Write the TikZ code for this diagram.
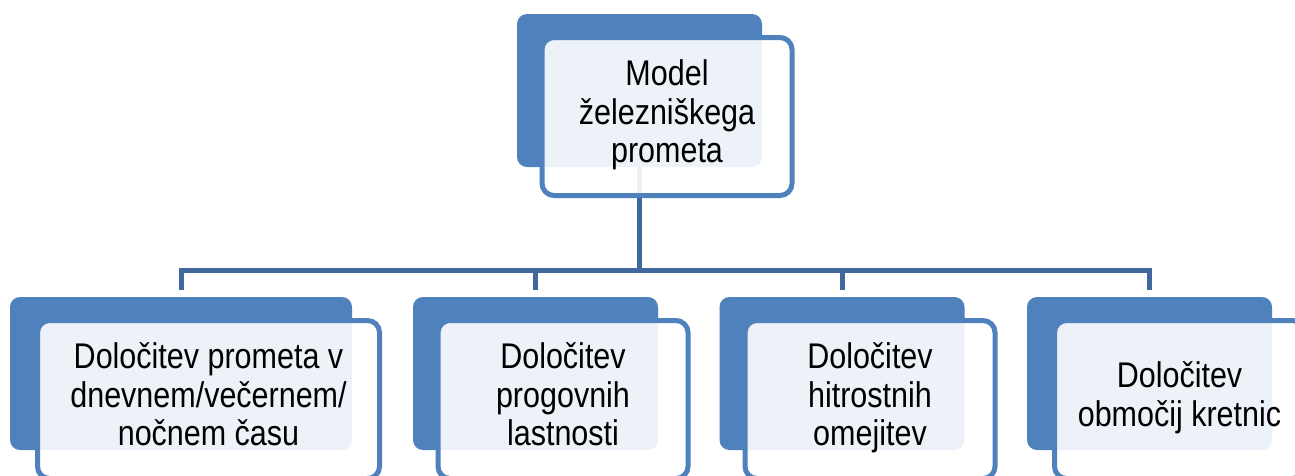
\documentclass[tikz,border=0pt]{standalone}
\usepackage{fontspec}
\setmainfont{Liberation Sans}
\usepackage{graphicx}
\definecolor{accblue}{RGB}{79,129,189}
\definecolor{connblue}{RGB}{64,104,156}
\newcommand{\mytxt}[1]{\scalebox{1}[1.17]{\begin{tabular}{@{}c@{}}#1\end{tabular}}}
\tikzset{
  darkbox/.style={rectangle, rounded corners=10pt, fill=accblue, draw=none, inner sep=0pt, outer sep=0pt, minimum width=245pt, minimum height=153pt},
  lightbox/.style={rectangle, rounded corners=12pt, fill=white, fill opacity=0.9, draw=accblue, draw opacity=1, line width=5pt, inner sep=0pt, outer sep=0pt, minimum width=250pt, minimum height=158pt},
  conn/.style={draw=connblue, line width=5pt},
  txt/.style={inner sep=0pt, font=\fontsize{30.5}{33}\selectfont, text=black}
}
\begin{document}
\begin{tikzpicture}[x=1pt,y=-1pt]
\useasboundingbox[fill=white] (0,0) rectangle (1295,475);
% dark back boxes
\node[darkbox] (d0) at (639.5,90.5) {};
\node[darkbox, minimum width=342pt] (d1) at (181,373.5) {};
\node[darkbox] (d2) at (535.5,373.5) {};
\node[darkbox] (d3) at (842,373.5) {};
\node[darkbox] (d4) at (1149.5,373.5) {};
% connectors
\coordinate (bus) at (0,270);
\draw[conn] (d0.south) -- (d0.south |- bus);
\draw[conn, shorten <=7pt, shorten >=7pt] (d1.north) |- (d4.north |- bus) -- (d4.north);
\draw[conn, shorten <=7pt] (d2.north) -- (d2.north |- bus);
\draw[conn, shorten <=7pt] (d3.north) -- (d3.north |- bus);
% light front boxes
\node[lightbox] (l0) at (667,116.5) {};
\node[lightbox, minimum width=342pt] (l1) at (208.5,399.5) {};
\node[lightbox] (l2) at (563,399.5) {};
\node[lightbox] (l3) at (870,399.5) {};
\node[lightbox] (l4) at (1179.5,399.5) {};
% texts
\node[txt] (t0) at (l0) {\mytxt{Model\\železniškega\\prometa}};
\node[txt] (t1) at (l1) {\mytxt{Določitev prometa v\\dnevnem/večernem/\\nočnem času}};
\node[txt] (t2) at (l2) {\mytxt{Določitev\\progovnih\\lastnosti}};
\node[txt] (t3) at (l3) {\mytxt{Določitev\\hitrostnih\\omejitev}};
\node[txt] (t4) at (l4) {\mytxt{Določitev\\območij kretnic}};
\end{tikzpicture}
\end{document}
